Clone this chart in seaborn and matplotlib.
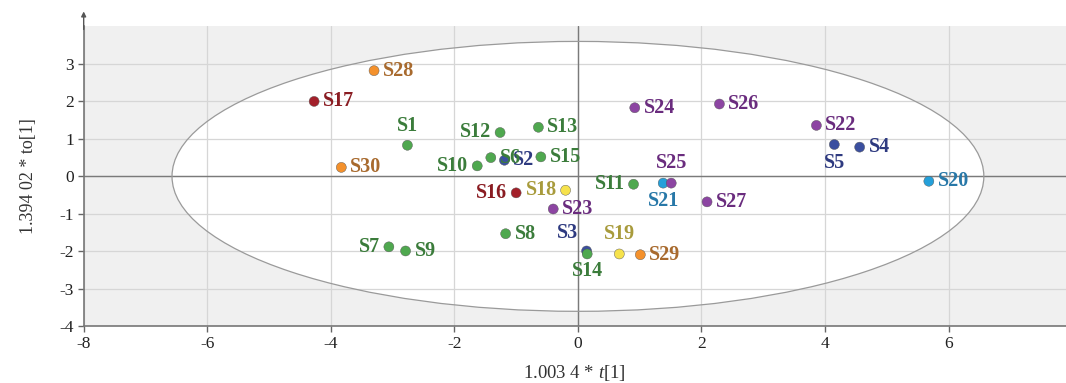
import matplotlib
matplotlib.use("Agg")
import matplotlib.pyplot as plt
from matplotlib.patches import Ellipse
import seaborn as sns
import pandas as pd

# ---- data ----
samples = ["S1", "S2", "S3", "S4", "S5", "S6", "S7", "S8", "S9", "S10",
           "S11", "S12", "S13", "S14", "S15", "S16", "S17", "S18", "S19", "S20",
           "S21", "S22", "S23", "S24", "S25", "S26", "S27", "S28", "S29", "S30"]
t1 = [-2.76, -1.19, 0.14, 4.56, 4.15, -1.41, -3.06, -1.17, -2.79, -1.63,
      0.90, -1.26, -0.64, 0.15, -0.60, -1.00, -4.27, -0.20, 0.67, 5.68,
      1.38, 3.86, -0.40, 0.92, 1.51, 2.29, 2.09, -3.30, 1.01, -3.83]
to1 = [0.83, 0.43, -1.99, 0.78, 0.85, 0.50, -1.88, -1.53, -1.99, 0.28,
       -0.21, 1.17, 1.31, -2.07, 0.52, -0.44, 2.00, -0.37, -2.07, -0.13,
       -0.18, 1.36, -0.87, 1.83, -0.18, 1.93, -0.68, 2.82, -2.09, 0.24]
groups = ["G", "B", "B", "B", "B", "G", "G", "G", "G", "G",
          "G", "G", "G", "G", "G", "R", "R", "Y", "Y", "C",
          "C", "P", "P", "P", "P", "P", "P", "O", "O", "O"]
x_ticks = [-8, -6, -4, -2, 0, 2, 4, 6]
y_ticks = [-4, -3, -2, -1, 0, 1, 2, 3]

dot_colors = {"G": "#4fa84f", "B": "#3b4f9f", "R": "#a3202a", "Y": "#f6e24c",
              "C": "#24a0da", "P": "#8c45a2", "O": "#f4912c"}
text_colors = {"G": "#3b7c3b", "B": "#2e3a80", "R": "#8a1c22", "Y": "#a89b3c",
               "C": "#2878a8", "P": "#6a2c7e", "O": "#a86a2e"}

# label placement (offset in pixels, alignment)
R = (9, 0, "left", "center")
offsets = {s: R for s in samples}
offsets.update({
    "S1": (0, 19, "center", "center"),
    "S12": (-9, 1, "right", "center"),
    "S10": (-9, 0, "right", "center"),
    "S16": (-9, 0, "right", "center"),
    "S18": (-9, 0, "right", "center"),
    "S11": (-9, 0, "right", "center"),
    "S7": (-9, 0, "right", "center"),
    "S21": (0, -18, "center", "center"),
    "S25": (0, 20, "center", "center"),
    "S5": (0, -18, "center", "center"),
    "S3": (-8, 18, "right", "center"),
    "S14": (0, -17, "center", "center"),
    "S19": (0, 20, "center", "center"),
})

df = pd.DataFrame({"sample": samples, "t1": t1, "to1": to1, "group": groups})

sns.set_style("white")
plt.rcParams["font.family"] = ["Liberation Serif", "DejaVu Serif"]
plt.rcParams["axes.unicode_minus"] = False
plt.rcParams["mathtext.fontset"] = "custom"
plt.rcParams["mathtext.rm"] = "Liberation Serif"
plt.rcParams["mathtext.it"] = "Liberation Serif:italic"

fig = plt.figure(figsize=(10.66, 3.83), dpi=100)
ax = fig.add_axes([0.0785, 0.148, 0.9215, 0.783])
ax.set_facecolor("#f0f0f0")

ax.add_patch(Ellipse((0, 0), 2 * 6.57, 2 * 3.6, facecolor="white",
                     edgecolor="none", zorder=0.2))
ax.add_patch(Ellipse((0, 0), 2 * 6.57, 2 * 3.6, facecolor="none",
                     edgecolor="#9a9a9a", lw=0.9, zorder=1.2))

ax.set_axisbelow(True)
ax.grid(True, color="#d6d6d6", lw=0.9)
ax.axhline(0, color="#7a7a7a", lw=1.0, zorder=1.1)
ax.axvline(0, color="#7a7a7a", lw=1.0, zorder=1.1)

sns.scatterplot(data=df, x="t1", y="to1", hue="group", palette=dot_colors,
                s=52, edgecolor="#555555", linewidth=0.3, legend=False,
                ax=ax, zorder=3)

for s, x, y, g in zip(samples, t1, to1, groups):
    dx, dy, ha, va = offsets[s]
    ax.annotate(s, (x, y), xytext=(dx * 0.72, dy * 0.72),
                textcoords="offset points", ha=ha, va=va,
                fontsize=14.5, fontweight="bold", color=text_colors[g],
                zorder=4)

ax.set_xlim(-8, 7.9)
ax.set_ylim(-4, 4.0)
ax.set_xticks(x_ticks)
ax.set_yticks(y_ticks)
ax.tick_params(axis="both", direction="out", length=4, width=1,
               color="#666666", labelsize=12.5, labelcolor="#222222", pad=3,
               bottom=True, left=True)

for side in ["top", "right"]:
    ax.spines[side].set_visible(False)
for side in ["left", "bottom"]:
    ax.spines[side].set_color("#777777")
    ax.spines[side].set_linewidth(1.2)

ax.set_xlabel("1.003 4 * $\\mathit{t}$[1]", fontsize=13.5, color="#333333",
              labelpad=8)
ax.set_ylabel("1.394 02 * to[1]", fontsize=13, color="#333333", labelpad=16)

ax.annotate("", xy=(0, 1.05), xytext=(0, 0.99), xycoords="axes fraction",
            arrowprops=dict(arrowstyle="-|>", color="#555555", lw=1.0,
                            mutation_scale=7, shrinkA=0, shrinkB=0),
            annotation_clip=False)

fig.savefig("out.png", dpi=100)
